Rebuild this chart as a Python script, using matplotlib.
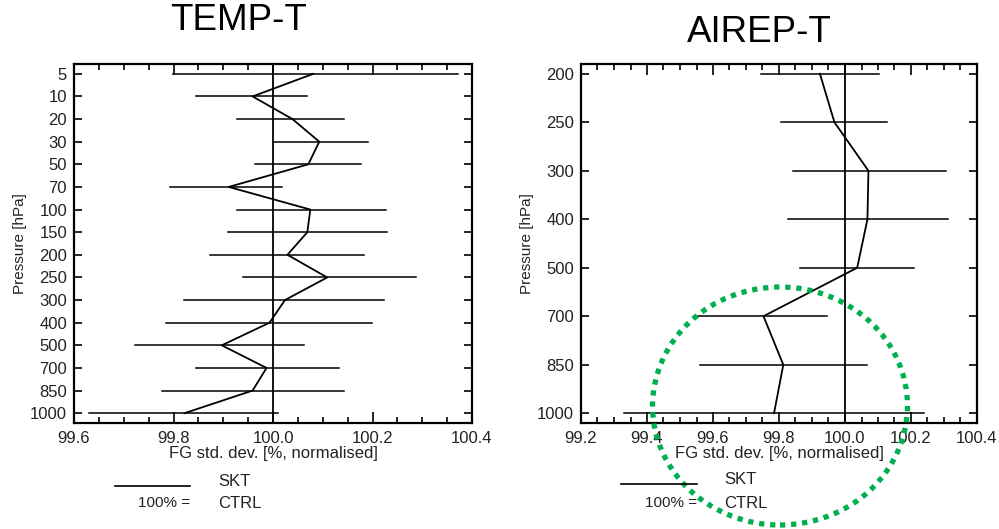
import matplotlib
matplotlib.use("Agg")
import matplotlib.pyplot as plt
from matplotlib.lines import Line2D
from matplotlib.patches import Ellipse
from matplotlib.ticker import MultipleLocator

plt.rcParams['font.family'] = ['Liberation Sans', 'DejaVu Sans']

# TEMP-T panel
temp_levels = ["5", "10", "20", "30", "50", "70", "100", "150", "200", "250",
               "300", "400", "500", "700", "850", "1000"]
temp_mean = [100.081, 99.959, 100.039, 100.093, 100.071, 99.911, 100.075, 100.069,
             100.029, 100.109, 100.024, 99.993, 99.897, 99.987, 99.959, 99.822]
temp_lo = [99.799, 99.845, 99.927, 99.999, 99.963, 99.793, 99.927, 99.910,
           99.873, 99.940, 99.822, 99.785, 99.723, 99.845, 99.777, 99.631]
temp_hi = [100.372, 100.069, 100.143, 100.191, 100.177, 100.019, 100.227, 100.229,
           100.182, 100.287, 100.224, 100.199, 100.063, 100.132, 100.142, 100.010]

# AIREP-T panel
airep_levels = ["200", "250", "300", "400", "500", "700", "850", "1000"]
airep_mean = [99.924, 99.968, 100.071, 100.068, 100.037, 99.753, 99.813, 99.785]
airep_lo = [99.744, 99.806, 99.841, 99.828, 99.864, 99.556, 99.561, 99.330]
airep_hi = [100.103, 100.128, 100.306, 100.311, 100.210, 99.946, 100.066, 100.239]

W, H = 999, 529
fig = plt.figure(figsize=(W / 100, H / 100), dpi=100)
txt = '#222222'


def panel(rect, levels, mean, lo, hi, xlim, xticks, title, title_xy, ylab_x):
    ax = fig.add_axes([rect[0] / W, 1 - rect[3] / H, (rect[2] - rect[0]) / W,
                       (rect[3] - rect[1]) / H])
    n = len(levels)
    pos = list(range(n))
    for p, a, b in zip(pos, lo, hi):
        ax.plot([a, b], [p, p], color='black', lw=1.1)
    ax.plot(mean, pos, color='black', lw=1.3)
    ax.axvline(100.0, color='black', lw=1.3)
    margin = 9.8 / ((rect[3] - rect[1] - 19.6) / (n - 1))
    ax.set_ylim(n - 1 + margin, -margin)
    ax.set_xlim(*xlim)
    ax.set_yticks(pos)
    ax.set_yticklabels(levels)
    ax.set_xticks(xticks)
    ax.set_xticklabels(["%.1f" % t for t in xticks])
    ax.xaxis.set_minor_locator(MultipleLocator(0.05))
    ax.tick_params(axis='both', which='both', direction='in', top=True, right=True,
                   labelsize=12, labelcolor=txt, width=1.2)
    ax.tick_params(axis='x', which='major', length=8, pad=6)
    ax.tick_params(axis='x', which='minor', length=4)
    ax.tick_params(axis='y', which='major', length=6, pad=5)
    for s in ax.spines.values():
        s.set_linewidth(1.6)
    ax.set_xlabel("FG std. dev. [%, normalised]", fontsize=12, color=txt, labelpad=0)
    fig.text(title_xy[0] / W, 1 - title_xy[1] / H, title, fontsize=26.5,
             ha='center', va='center', color='black')
    fig.text(ylab_x / W, 1 - ((rect[1] + rect[3]) / 2) / H, "Pressure [hPa]",
             rotation=90, fontsize=11, ha='center', va='center', color=txt)
    return ax


panel((74, 64, 472, 423), temp_levels, temp_mean, temp_lo, temp_hi,
      (99.6, 100.4), [99.6, 99.8, 100.0, 100.2, 100.4], "TEMP-T", (239, 21), 20)
panel((581, 64, 977, 423), airep_levels, airep_mean, airep_lo, airep_hi,
      (99.2, 100.4), [99.2, 99.4, 99.6, 99.8, 100.0, 100.2, 100.4], "AIREP-T", (759, 32), 527)


def legend(x0, x1, xt, yl, ys, yc):
    fig.add_artist(Line2D([x0 / W, x1 / W], [1 - yl / H, 1 - yl / H], color='black',
                          lw=1.2, transform=fig.transFigure))
    fig.text(xt / W, 1 - ys / H, "SKT", fontsize=12, va='center', color=txt)
    fig.text(x1 / W, 1 - yc / H, "100% =", fontsize=11, va='center', ha='right', color=txt)
    fig.text(xt / W, 1 - yc / H, "CTRL", fontsize=12, va='center', color=txt)


legend(115, 190, 218, 486, 481, 503)
legend(621, 697, 724, 484, 479, 503)

fig.add_artist(Ellipse((780 / W, 1 - 406 / H), 255 / W, 238 / H, fill=False,
                       edgecolor='#00b050', lw=3.8, linestyle=(0, (1, 1.1)),
                       transform=fig.transFigure))

fig.savefig("out.png", dpi=100)
